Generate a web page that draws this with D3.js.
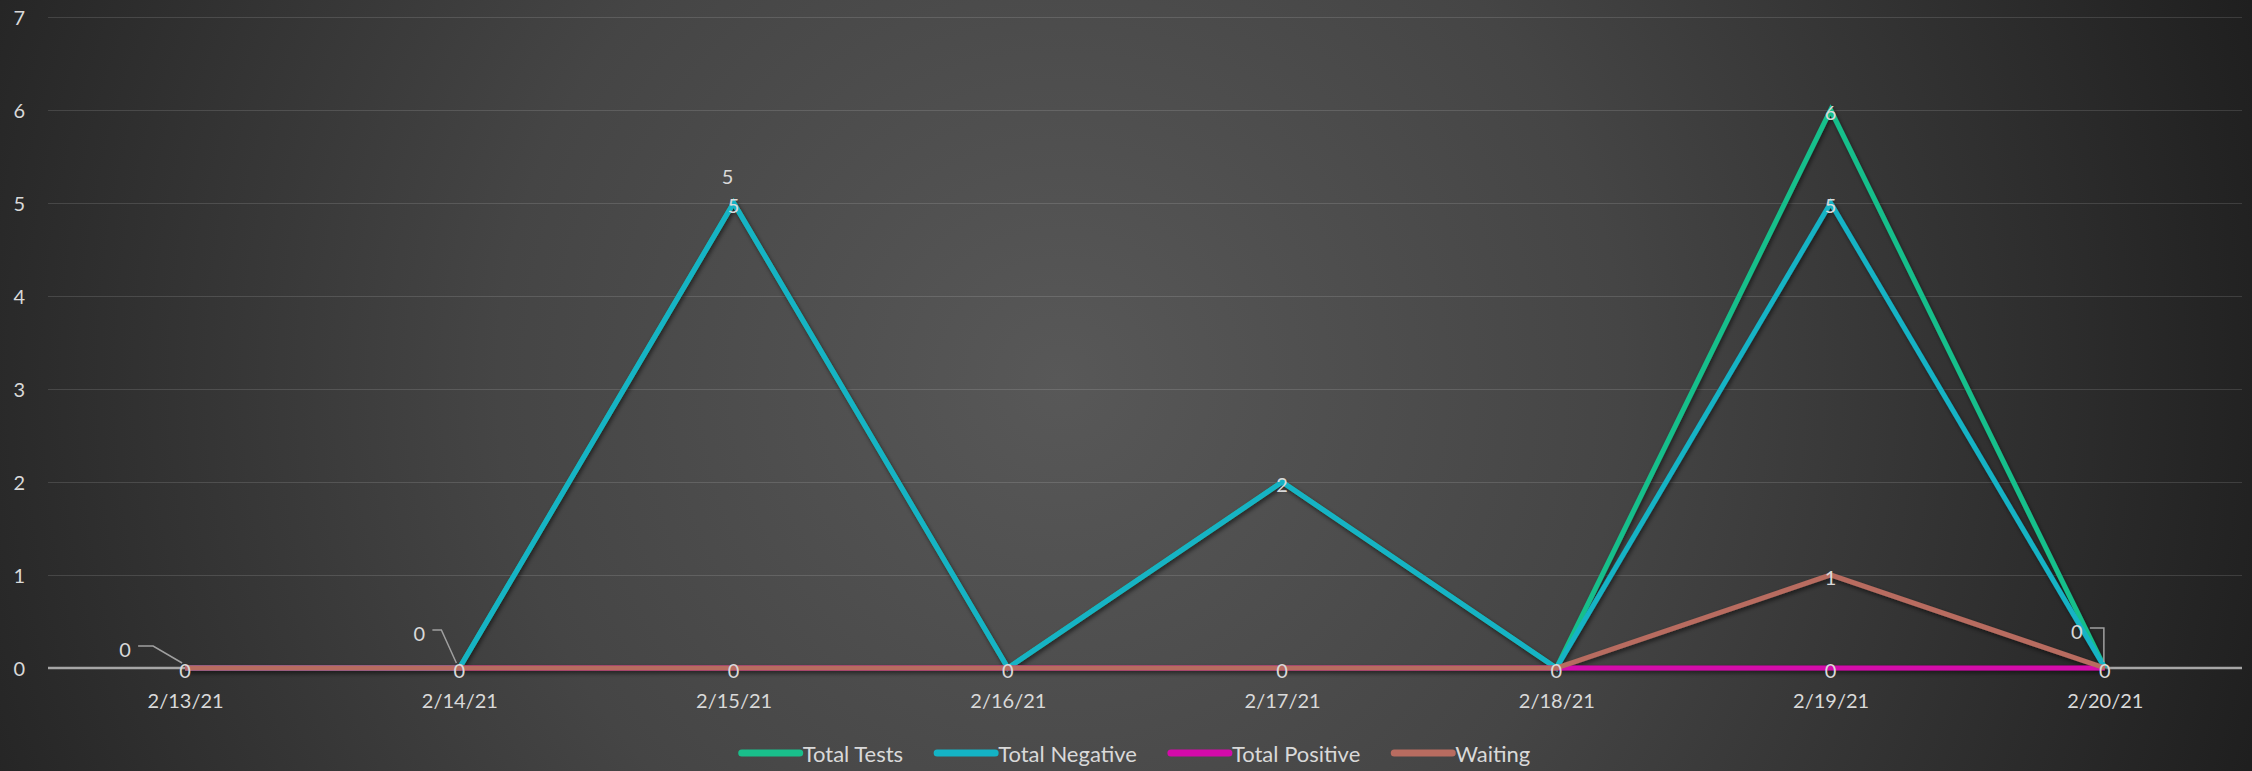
<!DOCTYPE html>
<html>
<head>
<meta charset="utf-8">
<script src="https://cdn.jsdelivr.net/npm/d3@7"></script>
<style>
  html, body { margin: 0; padding: 0; background: #2a2a2a; }
  svg { display: block; }
  text { font-family: Lato, "Open Sans", "Noto Sans", sans-serif; }
</style>
</head>
<body>
<svg id="chart" width="2252" height="771"></svg>
<script>
// ---- data ----
const dates = ["2/13/21", "2/14/21", "2/15/21", "2/16/21", "2/17/21", "2/18/21", "2/19/21", "2/20/21"];
const totalTests    = [0, 0, 5, 0, 2, 0, 6, 0];
const totalNegative = [0, 0, 5, 0, 2, 0, 5, 0];
const totalPositive = [0, 0, 0, 0, 0, 0, 0, 0];
const waiting       = [0, 0, 0, 0, 0, 0, 1, 0];
const yTicks = [0, 1, 2, 3, 4, 5, 6, 7];

const seriesNames = ["Total Tests", "Total Negative", "Total Positive", "Waiting"];
const seriesValues = [totalTests, totalNegative, totalPositive, waiting];
const seriesColors = ["#19bf8b", "#14b3c5", "#d40aaa", "#b86c60"];

// data label placement: [series index, point index, dx, dy, leader elbow dx or null]
const labelSpots = [
  [3, 0, 0, 2, null], [0, 0, -60, -19, -32],
  [3, 1, 0, 2, null], [0, 1, -40, -35, -18],
  [1, 2, 0, 2, null], [0, 2, -6, -27, null], [3, 2, 0, 2, null],
  [3, 3, 0, 2, null],
  [1, 4, 0, 2, null], [3, 4, 0, 2, null],
  [3, 5, 0, 2, null],
  [0, 6, 0, 2, null], [1, 6, 0, 2, null], [3, 6, 0, 2, null], [2, 6, 0, 2, null],
  [3, 7, 0, 2, null], [0, 7, -28, -37, 0]
];

// ---- layout ----
const W = 2252, H = 771;
const plot = { left: 48, right: 2242, top: 17, bottom: 668 };
const textColor = "#d9d9d9";

const svg = d3.select("#chart");
const defs = svg.append("defs");

const bg = defs.append("radialGradient")
  .attr("id", "bgGrad").attr("gradientUnits", "userSpaceOnUse")
  .attr("cx", 1060).attr("cy", 380).attr("r", 1250);
bg.append("stop").attr("offset", "0%").attr("stop-color", "#585858");
bg.append("stop").attr("offset", "45%").attr("stop-color", "#454545");
bg.append("stop").attr("offset", "100%").attr("stop-color", "#1f1f1f");

const shadow = defs.append("filter").attr("id", "lineShadow")
  .attr("x", "-5%").attr("y", "-5%").attr("width", "110%").attr("height", "120%");
shadow.append("feDropShadow").attr("dx", 1.5).attr("dy", 2.5)
  .attr("stdDeviation", 2).attr("flood-color", "#000").attr("flood-opacity", 0.55);

svg.append("rect").attr("width", W).attr("height", H).attr("fill", "url(#bgGrad)");

const x = d3.scalePoint().domain(dates).range([plot.left, plot.right]).padding(0.5);
const y = d3.scaleLinear().domain([0, 7]).range([plot.bottom, plot.top]);

// horizontal gridlines
const yAxis = d3.axisLeft(y).tickValues(yTicks).tickFormat(d3.format("d"))
  .tickSize(-(plot.right - plot.left)).tickPadding(23);
const gy = svg.append("g").attr("transform", `translate(${plot.left},0)`).call(yAxis);
gy.select(".domain").remove();
gy.selectAll(".tick line").attr("stroke", "#ffffff").attr("stroke-opacity", 0.13).attr("stroke-width", 1.2)
  .filter(d => d === 0).remove();
gy.selectAll(".tick text").attr("fill", textColor).attr("font-size", 20).attr("dy", "0.36em");

// category axis
const xAxis = d3.axisBottom(x).tickSize(0).tickPadding(26);
const gx = svg.append("g").attr("transform", `translate(0,${plot.bottom})`).call(xAxis);
gx.select(".domain").attr("stroke", "#a6a6a6").attr("stroke-width", 2.5)
  .attr("d", `M${plot.left},0H${plot.right}`);
gx.selectAll(".tick text").attr("fill", textColor).attr("font-size", 20).attr("dy", "0.71em");

// series lines
const line = d3.line().x((d, i) => x(dates[i])).y(d => y(d));
svg.append("g").attr("filter", "url(#lineShadow)")
  .selectAll("path").data(seriesValues).join("path")
  .attr("d", line)
  .attr("fill", "none")
  .attr("stroke", (d, i) => seriesColors[i])
  .attr("stroke-width", 5)
  .attr("stroke-linejoin", "miter")
  .attr("stroke-linecap", "butt");

// data labels
const gl = svg.append("g");
labelSpots.forEach(([s, i, dx, dy, elbow]) => {
  const px = x(dates[i]), py = y(seriesValues[s][i]);
  const lx = px + dx, ly = py + dy;
  if (elbow !== null) {
    const ex = px + elbow;
    const startX = lx + 13, startY = ly - 3;
    const path = elbow === 0
      ? `M${startX},${startY}H${ex - 1}V${py - 6}`
      : `M${startX},${startY}H${ex}L${px - 3},${py - 5}`;
    gl.append("path").attr("d", path).attr("fill", "none")
      .attr("stroke", "#a0a0a0").attr("stroke-width", 1.5);
  }
  gl.append("text").attr("x", lx).attr("y", ly)
    .attr("text-anchor", "middle").attr("dominant-baseline", "central")
    .attr("fill", textColor).attr("font-size", 20)
    .text(seriesValues[s][i]);
});

// legend
const legend = svg.append("g");
const swatchW = 58, gapAfterSwatch = 3, itemGap = 34, legendY = 753;
let cursor = 0;
seriesNames.forEach((name, i) => {
  const g = legend.append("g");
  g.append("line").attr("x1", 0).attr("x2", swatchW).attr("y1", 0).attr("y2", 0)
    .attr("stroke", seriesColors[i]).attr("stroke-width", 7).attr("stroke-linecap", "round");
  const t = g.append("text").attr("x", swatchW + gapAfterSwatch).attr("y", 0)
    .attr("dominant-baseline", "central").attr("fill", textColor).attr("font-size", 22).text(name);
  const w = swatchW + gapAfterSwatch + t.node().getComputedTextLength();
  g.attr("transform", `translate(${cursor},${legendY})`);
  cursor += w + itemGap;
});
const legendWidth = cursor - itemGap;
legend.attr("transform", `translate(${(plot.left + plot.right) / 2 - legendWidth / 2 - 9},0)`);
</script>
</body>
</html>
